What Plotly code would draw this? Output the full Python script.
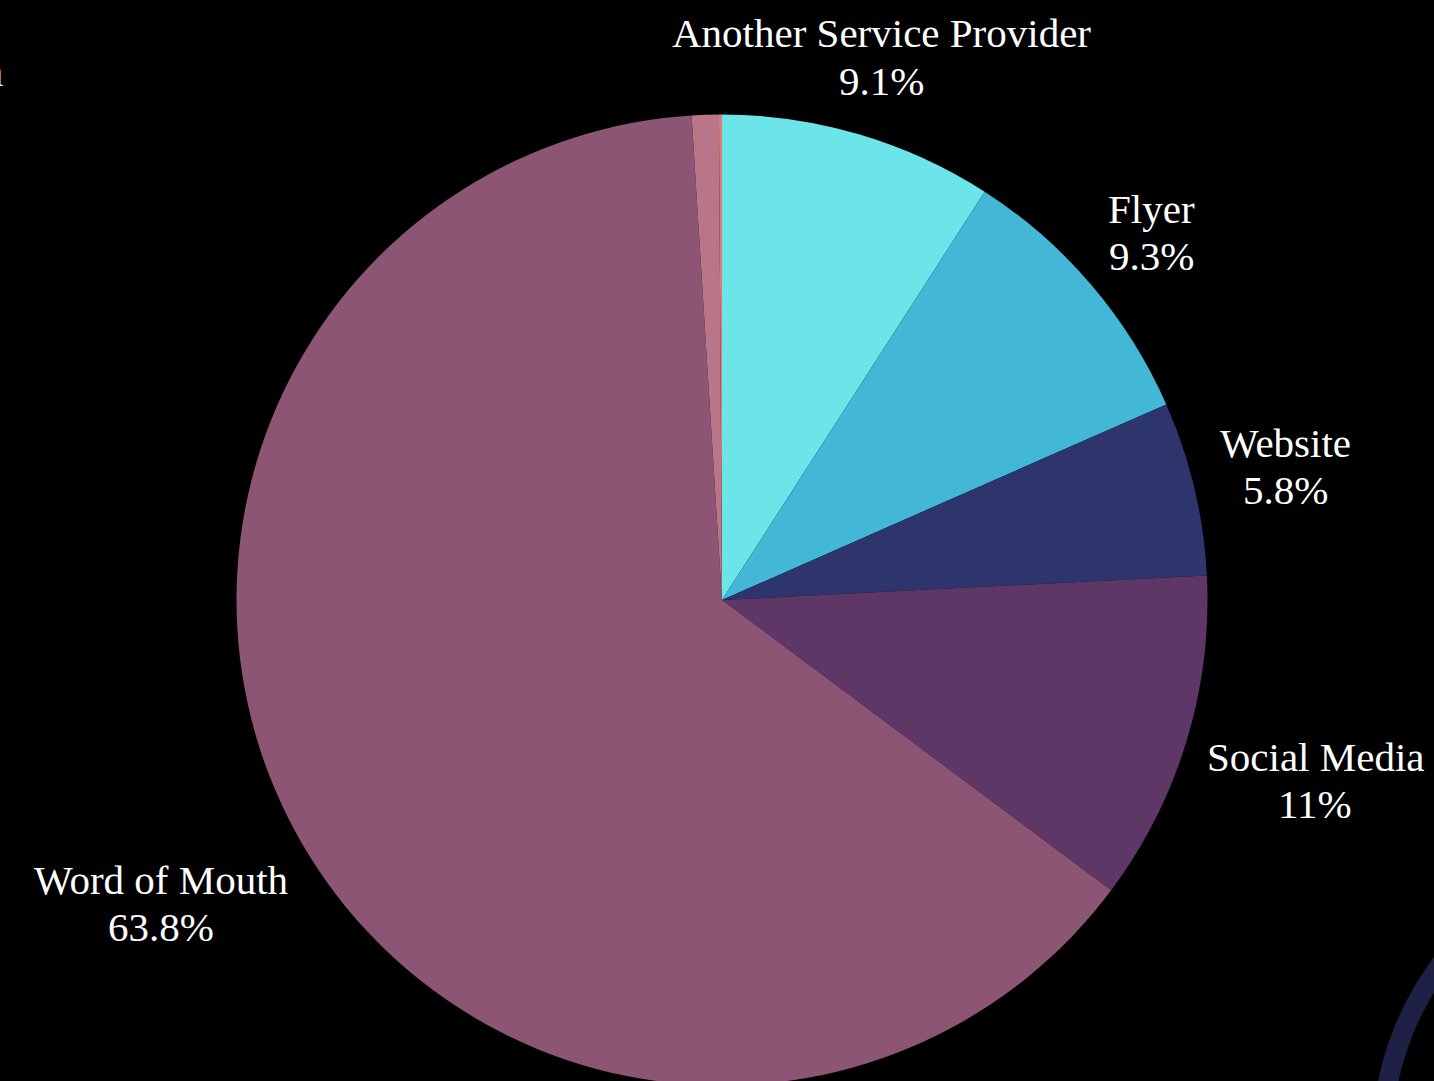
import math
import plotly.graph_objects as go

# ---- data ----
labels = ["Another Service Provider", "Flyer", "Website", "Social Media",
          "Word of Mouth", "Television", "Other"]
values = [9.1, 9.3, 5.8, 11.0, 63.8, 0.9, 0.1]
colors = ["#6be5e8", "#42b7d6", "#2e356d", "#5e3767", "#8b5573", "#b87688", "#e07b7b"]

W, H = 1434, 1100
CX, CY, R = 722.0, 600.0, 485.5     # pie centre / radius in pixels (from top-left)
FS = 41
FONT = dict(family="Liberation Serif, Times New Roman, serif", size=FS, color="#ffffff")
LINE_GAP = 47

# approximate Times-metric advance widths (em)
_CW = {" ": .25, "A": .722, "S": .556, "P": .556, "F": .556, "W": .944, "M": .889,
       "a": .444, "b": .5, "c": .444, "d": .5, "e": .444, "f": .333, "h": .5, "i": .278,
       "l": .278, "m": .778, "n": .5, "o": .5, "r": .333, "s": .389, "t": .278, "u": .5,
       "v": .5, "y": .5, "%": .833, ".": .25}

def text_w(t):
    return sum(_CW.get(ch, .5) for ch in t) * FS

def px_to_paper(x, y):
    return x / W, 1 - y / H

fig = go.Figure()
fig.add_trace(go.Pie(
    labels=labels, values=values, sort=False, direction="clockwise", rotation=0,
    marker=dict(colors=colors, line=dict(width=0)),
    textinfo="none", hoverinfo="label+percent", showlegend=False,
    domain=dict(x=[(CX - R) / W, (CX + R) / W], y=[1 - (CY + R) / H, 1 - (CY - R) / H]),
))

def fmt(v):
    return f"{v:g}%"

annotations = []
total = sum(values)
cum = 0.0
for lab, v in zip(labels, values):
    mid = (cum + v / 2) / total * 2 * math.pi
    cum += v
    if v < 1:
        continue
    s, c = math.sin(mid), math.cos(mid)
    w = max(text_w(lab), text_w(fmt(v)))
    h = 90
    rc = 503 + abs(s) * w / 2 + abs(c) * h / 2
    cy = CY - c * rc
    if cy - h / 2 < 12:
        rc = (CY - (12 + h / 2)) / c
        cy = CY - c * rc
    cx = CX + s * rc
    for txt, dy in ((lab, -LINE_GAP / 2), (fmt(v), LINE_GAP / 2)):
        x, y = px_to_paper(cx, cy + dy)
        annotations.append(dict(x=x, y=y, xref="paper", yref="paper", text=txt,
                                showarrow=False, xanchor="center", yanchor="middle",
                                font=FONT))

# small slice label pushed to the left edge (mostly outside the view)
small = labels[5]
wl = text_w(small)
x1, y1 = px_to_paper(5, 72)
annotations.append(dict(x=x1, y=y1, xref="paper", yref="paper", text=small,
                        showarrow=False, xanchor="right", yanchor="middle", font=FONT))
x2, y2 = px_to_paper(5 - wl / 2, 72 + LINE_GAP)
annotations.append(dict(x=x2, y=y2, xref="paper", yref="paper", text=fmt(values[5]),
                        showarrow=False, xanchor="center", yanchor="middle", font=FONT))

# decorative ring at bottom-right
rcx, rcy, rr = 1679, 1142, 297
ax0, ay0 = px_to_paper(rcx - rr, rcy + rr)
ax1, ay1 = px_to_paper(rcx + rr, rcy - rr)
shapes = [dict(type="circle", xref="paper", yref="paper", x0=ax0, y0=ay0, x1=ax1, y1=ay1,
               line=dict(color="#1f2046", width=20), fillcolor="rgba(0,0,0,0)", layer="below")]

fig.update_layout(
    width=W, height=H, margin=dict(l=0, r=0, t=0, b=0),
    paper_bgcolor="#000000", plot_bgcolor="#000000",
    annotations=annotations, shapes=shapes, showlegend=False,
)

fig.write_html("out.html", config={"displayModeBar": False}, post_script=(
    "document.body.style.margin='0';document.body.style.padding='0';"
    "document.body.style.overflow='hidden';document.body.style.background='#000';"
    "document.documentElement.style.overflow='hidden';"
))
